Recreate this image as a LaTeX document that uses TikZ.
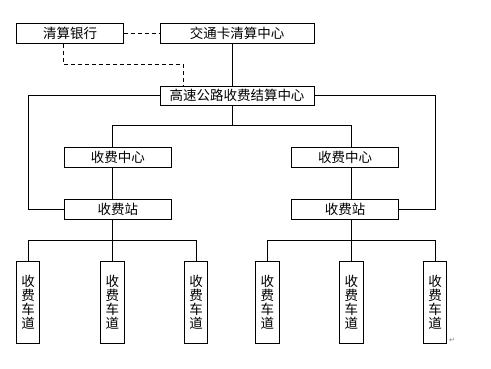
\documentclass[tikz,border=0pt]{standalone}
\usepackage{fontspec}
\newfontfamily\cjk{Noto Sans CJK SC}
\newfontfamily\djv{DejaVu Sans}
\begin{document}
\begin{tikzpicture}[x=1pt,y=-1pt,line width=1pt,
  box/.style={draw=black,line width=1pt,rectangle,inner sep=0pt,font=\cjk\fontsize{13.5}{14}\selectfont},
  lane/.style={box,minimum width=23.4pt,minimum height=82pt,align=center,font=\cjk\fontsize{13.5}{13.8}\selectfont},
  dsh/.style={dash pattern=on 4pt off 3pt}]
\useasboundingbox[fill=white] (0,0) rectangle (491,369);
\node[box,minimum width=106.3pt,minimum height=20pt] (bank) at (70,33.3) {清算银行};
\node[box,minimum width=154pt,minimum height=20pt] (card) at (237,33.3) {交通卡清算中心};
\node[box,minimum width=154pt,minimum height=19.3pt] (hw) at (237,95.7) {高速公路收费结算中心};
\node[box,minimum width=107pt,minimum height=20pt] (fc1) at (117.8,157.3) {收费中心};
\node[box,minimum width=106.7pt,minimum height=20pt] (fc2) at (345,157.3) {收费中心};
\node[box,minimum width=107pt,minimum height=20pt] (st1) at (117.8,209.3) {收费站};
\node[box,minimum width=106.7pt,minimum height=20pt] (st2) at (345,209.3) {收费站};
\node[lane] (l1) at (28,302.3) {收\\费\\车\\道};
\node[lane] (l2) at (112.3,302.3) {收\\费\\车\\道};
\node[lane] (l3) at (196,302.3) {收\\费\\车\\道};
\node[lane,minimum width=24pt] (l4) at (267.3,302.3) {收\\费\\车\\道};
\node[lane] (l5) at (351.3,302.3) {收\\费\\车\\道};
\node[lane] (l6) at (435,302.3) {收\\费\\车\\道};
\node[text=gray,font=\djv\fontsize{7}{7}\selectfont,inner sep=0pt] (pm) at (452,340) {↵};
% dashed links
\draw[dsh] (bank.east) -- (card.west);
\coordinate (d1) at (63.3,64.3);
\coordinate (d2) at (183.3,64.3);
\draw[dsh] (bank.south -| d1) -- (d1) -- (d2) -- (hw.north -| d2);
% solid links
\draw (card.south -| 232.3,0) -- (hw.north -| 232.3,0);
\coordinate (L) at (28.3,209.3);
\coordinate (R) at (435.3,209.3);
\draw (hw.west) -| (L) -- (st1.west);
\draw (hw.east) -| (R) -- (st2.east);
\coordinate (m) at (232.3,126);
\coordinate (ma) at (112.3,126);
\coordinate (mb) at (351.7,126);
\draw (hw.south -| m) -- (m);
\draw (fc1.north -| ma) -- (ma) -- (mb) -- (fc2.north -| mb);
\draw (fc1.south -| ma) -- (st1.north -| ma);
\draw (fc2.south -| mb) -- (st2.north -| mb);
\coordinate (ba) at (112.3,240.3);
\coordinate (bb) at (351.3,240.3);
\draw (st1.south -| ba) -- (ba);
\draw (st2.south -| bb) -- (bb);
\draw (l1.north) |- (ba) -| (l3.north);
\draw (l2.north) -- (ba);
\draw (l4.north) |- (bb) -| (l6.north);
\draw (l5.north) -- (bb);
\end{tikzpicture}
\end{document}
